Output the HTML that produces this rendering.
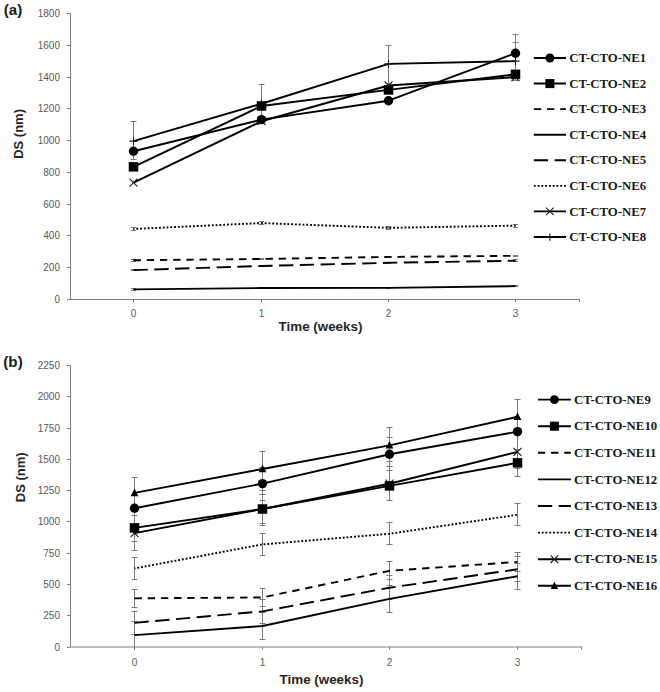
<!DOCTYPE html>
<html><head><meta charset="utf-8"><title>DS vs time</title>
<style>html,body{margin:0;padding:0;background:#fff;overflow:hidden;}svg{display:block;}</style>
</head><body>
<svg width="660" height="692" viewBox="0 0 660 692">
<rect width="660" height="692" fill="#fff"/>
<text x="3.8" y="15.0" font-family='"Liberation Sans", sans-serif' font-size="15.2" font-weight="bold" fill="#1a1a1a">(a)</text>
<line x1="70.5" y1="13" x2="70.5" y2="299.5" stroke="#7d7d7d" stroke-width="1"/>
<line x1="67" y1="299.5" x2="70.5" y2="299.5" stroke="#7d7d7d" stroke-width="1"/>
<text transform="translate(60,302.9) scale(1,1)" text-anchor="end" font-family='"Liberation Sans", sans-serif' font-size="10" fill="#595959">0</text>
<line x1="67" y1="267.5" x2="70.5" y2="267.5" stroke="#7d7d7d" stroke-width="1"/>
<text transform="translate(60,270.9) scale(1,1)" text-anchor="end" font-family='"Liberation Sans", sans-serif' font-size="10" fill="#595959">200</text>
<line x1="67" y1="235.5" x2="70.5" y2="235.5" stroke="#7d7d7d" stroke-width="1"/>
<text transform="translate(60,238.9) scale(1,1)" text-anchor="end" font-family='"Liberation Sans", sans-serif' font-size="10" fill="#595959">400</text>
<line x1="67" y1="204.5" x2="70.5" y2="204.5" stroke="#7d7d7d" stroke-width="1"/>
<text transform="translate(60,207.9) scale(1,1)" text-anchor="end" font-family='"Liberation Sans", sans-serif' font-size="10" fill="#595959">600</text>
<line x1="67" y1="172.5" x2="70.5" y2="172.5" stroke="#7d7d7d" stroke-width="1"/>
<text transform="translate(60,175.9) scale(1,1)" text-anchor="end" font-family='"Liberation Sans", sans-serif' font-size="10" fill="#595959">800</text>
<line x1="67" y1="140.5" x2="70.5" y2="140.5" stroke="#7d7d7d" stroke-width="1"/>
<text transform="translate(60,143.9) scale(1,1)" text-anchor="end" font-family='"Liberation Sans", sans-serif' font-size="10" fill="#595959">1000</text>
<line x1="67" y1="108.5" x2="70.5" y2="108.5" stroke="#7d7d7d" stroke-width="1"/>
<text transform="translate(60,111.9) scale(1,1)" text-anchor="end" font-family='"Liberation Sans", sans-serif' font-size="10" fill="#595959">1200</text>
<line x1="67" y1="77.5" x2="70.5" y2="77.5" stroke="#7d7d7d" stroke-width="1"/>
<text transform="translate(60,80.9) scale(1,1)" text-anchor="end" font-family='"Liberation Sans", sans-serif' font-size="10" fill="#595959">1400</text>
<line x1="67" y1="45.5" x2="70.5" y2="45.5" stroke="#7d7d7d" stroke-width="1"/>
<text transform="translate(60,48.9) scale(1,1)" text-anchor="end" font-family='"Liberation Sans", sans-serif' font-size="10" fill="#595959">1600</text>
<line x1="67" y1="13.5" x2="70.5" y2="13.5" stroke="#7d7d7d" stroke-width="1"/>
<text transform="translate(60,16.9) scale(1,1)" text-anchor="end" font-family='"Liberation Sans", sans-serif' font-size="10" fill="#595959">1800</text>
<line x1="70" y1="299.5" x2="580" y2="299.5" stroke="#7d7d7d" stroke-width="1"/>
<line x1="133.5" y1="299.5" x2="133.5" y2="302" stroke="#7d7d7d" stroke-width="1"/>
<line x1="261.5" y1="299.5" x2="261.5" y2="302" stroke="#7d7d7d" stroke-width="1"/>
<line x1="388.5" y1="299.5" x2="388.5" y2="302" stroke="#7d7d7d" stroke-width="1"/>
<line x1="515.5" y1="299.5" x2="515.5" y2="302" stroke="#7d7d7d" stroke-width="1"/>
<line x1="579.5" y1="299.5" x2="579.5" y2="302" stroke="#7d7d7d" stroke-width="1"/>
<text transform="translate(133.5,317) scale(1,1)" text-anchor="middle" font-family='"Liberation Sans", sans-serif' font-size="10" fill="#595959">0</text>
<text transform="translate(261.5,317) scale(1,1)" text-anchor="middle" font-family='"Liberation Sans", sans-serif' font-size="10" fill="#595959">1</text>
<text transform="translate(388.5,317) scale(1,1)" text-anchor="middle" font-family='"Liberation Sans", sans-serif' font-size="10" fill="#595959">2</text>
<text transform="translate(515.5,317) scale(1,1)" text-anchor="middle" font-family='"Liberation Sans", sans-serif' font-size="10" fill="#595959">3</text>
<text x="320.5" y="330.8" text-anchor="middle" font-family='"Liberation Sans", sans-serif' font-size="13.4" font-weight="bold" fill="#262626">Time (weeks)</text>
<text transform="translate(18.6,133.9) rotate(-90)" x="0" y="0" text-anchor="middle" font-family='"Liberation Sans", sans-serif' font-size="13" font-weight="bold" fill="#262626" dominant-baseline="central">DS (nm)</text>
<path d="M133.5 159.5L133.5 121.5M130.5 159.5L136.5 159.5M130.5 121.5L136.5 121.5" stroke="#7a7a7a" stroke-width="1" fill="none"/>
<path d="M261.5 121.5L261.5 84.5M258.5 121.5L264.5 121.5M258.5 84.5L264.5 84.5" stroke="#7a7a7a" stroke-width="1" fill="none"/>
<path d="M388.5 83.5L388.5 45.5M385.5 83.5L391.5 83.5M385.5 45.5L391.5 45.5" stroke="#7a7a7a" stroke-width="1" fill="none"/>
<path d="M515.5 80.5L515.5 42.5M512.5 80.5L518.5 80.5M512.5 42.5L518.5 42.5" stroke="#7a7a7a" stroke-width="1" fill="none"/>
<path d="M515.5 72.5L515.5 34.5M512.5 72.5L518.5 72.5M512.5 34.5L518.5 34.5" stroke="#7a7a7a" stroke-width="1" fill="none"/>
<path d="M133.5 230.5L133.5 227.5M130.9 230.5L136.1 230.5M130.9 227.5L136.1 227.5" stroke="#7a7a7a" stroke-width="1" fill="none"/>
<path d="M261.5 224.5L261.5 221.5M258.9 224.5L264.1 224.5M258.9 221.5L264.1 221.5" stroke="#7a7a7a" stroke-width="1" fill="none"/>
<path d="M388.5 229.5L388.5 226.5M385.9 229.5L391.1 229.5M385.9 226.5L391.1 226.5" stroke="#7a7a7a" stroke-width="1" fill="none"/>
<path d="M515.5 227.5L515.5 224.5M512.9 227.5L518.1 227.5M512.9 224.5L518.1 224.5" stroke="#7a7a7a" stroke-width="1" fill="none"/>
<path d="M133.5 261.5L133.5 259.5M130.9 261.5L136.1 261.5M130.9 259.5L136.1 259.5" stroke="#7a7a7a" stroke-width="1" fill="none"/>
<path d="M261.5 259.5L261.5 258.5M258.9 259.5L264.1 259.5M258.9 258.5L264.1 258.5" stroke="#7a7a7a" stroke-width="1" fill="none"/>
<path d="M388.5 257.5L388.5 256.5M385.9 257.5L391.1 257.5M385.9 256.5L391.1 256.5" stroke="#7a7a7a" stroke-width="1" fill="none"/>
<path d="M515.5 256.5L515.5 255.5M512.9 256.5L518.1 256.5M512.9 255.5L518.1 255.5" stroke="#7a7a7a" stroke-width="1" fill="none"/>
<path d="M133.5 270.5L133.5 269.5M130.9 270.5L136.1 270.5M130.9 269.5L136.1 269.5" stroke="#7a7a7a" stroke-width="1" fill="none"/>
<path d="M261.5 266.5L261.5 265.5M258.9 266.5L264.1 266.5M258.9 265.5L264.1 265.5" stroke="#7a7a7a" stroke-width="1" fill="none"/>
<path d="M388.5 263.5L388.5 262.5M385.9 263.5L391.1 263.5M385.9 262.5L391.1 262.5" stroke="#7a7a7a" stroke-width="1" fill="none"/>
<path d="M515.5 261.5L515.5 259.5M512.9 261.5L518.1 261.5M512.9 259.5L518.1 259.5" stroke="#7a7a7a" stroke-width="1" fill="none"/>
<path d="M133.5 290.5L133.5 288.5M130.9 290.5L136.1 290.5M130.9 288.5L136.1 288.5" stroke="#7a7a7a" stroke-width="1" fill="none"/>
<path d="M261.5 288.5L261.5 287.5M258.9 288.5L264.1 288.5M258.9 287.5L264.1 287.5" stroke="#7a7a7a" stroke-width="1" fill="none"/>
<path d="M388.5 288.5L388.5 287.5M385.9 288.5L391.1 288.5M385.9 287.5L391.1 287.5" stroke="#7a7a7a" stroke-width="1" fill="none"/>
<path d="M515.5 286.5L515.5 285.5M512.9 286.5L518.1 286.5M512.9 285.5L518.1 285.5" stroke="#7a7a7a" stroke-width="1" fill="none"/>
<polyline points="133.5,151.26 261.5,119.64 388.5,100.73 515.5,53.22" fill="none" stroke="#000" stroke-width="1.9" stroke-linejoin="round"/>
<polyline points="133.5,166.83 261.5,105.97 388.5,89.93 515.5,74.35" fill="none" stroke="#000" stroke-width="1.9" stroke-linejoin="round"/>
<polyline points="133.5,260.25 261.5,258.98 388.5,256.92 515.5,255.81" fill="none" stroke="#000" stroke-width="1.9" stroke-dasharray="7.4 5.8" stroke-linejoin="round"/>
<polyline points="133.5,289.33 261.5,288.06 388.5,287.9 515.5,286.15" fill="none" stroke="#000" stroke-width="1.9" stroke-linejoin="round"/>
<polyline points="133.5,270.11 261.5,265.97 388.5,262.8 515.5,260.73" fill="none" stroke="#000" stroke-width="1.9" stroke-dasharray="14.3 6.5" stroke-linejoin="round"/>
<polyline points="133.5,228.95 261.5,223.07 388.5,227.84 515.5,225.62" fill="none" stroke="#000" stroke-width="1.9" stroke-dasharray="1.9 1.88" stroke-dashoffset="0.95" stroke-linejoin="round"/>
<polyline points="133.5,182.72 261.5,121.23 388.5,85.48 515.5,77.06" fill="none" stroke="#000" stroke-width="1.9" stroke-linejoin="round"/>
<polyline points="133.5,141.09 261.5,103.75 388.5,63.87 515.5,61.17" fill="none" stroke="#000" stroke-width="1.9" stroke-linejoin="round"/>
<path d="M129.5 141.09L137.5 141.09M133.5 137.09L133.5 145.09" stroke="#1a1a1a" stroke-width="1.1" fill="none"/>
<path d="M257.5 103.75L265.5 103.75M261.5 99.75L261.5 107.75" stroke="#1a1a1a" stroke-width="1.1" fill="none"/>
<path d="M384.5 63.87L392.5 63.87M388.5 59.87L388.5 67.87" stroke="#1a1a1a" stroke-width="1.1" fill="none"/>
<path d="M511.5 61.17L519.5 61.17M515.5 57.17L515.5 65.17" stroke="#1a1a1a" stroke-width="1.1" fill="none"/>
<path d="M129.5 178.72L137.5 186.72M129.5 186.72L137.5 178.72" stroke="#1a1a1a" stroke-width="1.1" fill="none"/>
<path d="M257.5 117.23L265.5 125.23M257.5 125.23L265.5 117.23" stroke="#1a1a1a" stroke-width="1.1" fill="none"/>
<path d="M384.5 81.48L392.5 89.48M384.5 89.48L392.5 81.48" stroke="#1a1a1a" stroke-width="1.1" fill="none"/>
<path d="M511.5 73.06L519.5 81.06M511.5 81.06L519.5 73.06" stroke="#1a1a1a" stroke-width="1.1" fill="none"/>
<rect x="128.75" y="162.08" width="9.5" height="9.5" fill="#000"/>
<rect x="256.75" y="101.22" width="9.5" height="9.5" fill="#000"/>
<rect x="383.75" y="85.18" width="9.5" height="9.5" fill="#000"/>
<rect x="510.75" y="69.6" width="9.5" height="9.5" fill="#000"/>
<circle cx="133.5" cy="151.26" r="4.7" fill="#000"/>
<circle cx="261.5" cy="119.64" r="4.7" fill="#000"/>
<circle cx="388.5" cy="100.73" r="4.7" fill="#000"/>
<circle cx="515.5" cy="53.22" r="4.7" fill="#000"/>
<line x1="533.8" y1="58" x2="566" y2="58" stroke="#000" stroke-width="1.9"/>
<circle cx="549.9" cy="58" r="4.46" fill="#000"/>
<text x="569.3" y="62.2" font-family='"Liberation Serif", serif' font-size="12.8" font-weight="bold" fill="#1a1a1a">CT-CTO-NE1</text>
<line x1="533.8" y1="83.57" x2="566" y2="83.57" stroke="#000" stroke-width="1.9"/>
<rect x="545.39" y="79.06" width="9.03" height="9.03" fill="#000"/>
<text x="569.3" y="87.77" font-family='"Liberation Serif", serif' font-size="12.8" font-weight="bold" fill="#1a1a1a">CT-CTO-NE2</text>
<line x1="533.8" y1="109.14" x2="566" y2="109.14" stroke="#000" stroke-width="1.9" stroke-dasharray="7.4 5.8"/>
<text x="569.3" y="113.34" font-family='"Liberation Serif", serif' font-size="12.8" font-weight="bold" fill="#1a1a1a">CT-CTO-NE3</text>
<line x1="533.8" y1="134.71" x2="566" y2="134.71" stroke="#000" stroke-width="1.9"/>
<text x="569.3" y="138.91" font-family='"Liberation Serif", serif' font-size="12.8" font-weight="bold" fill="#1a1a1a">CT-CTO-NE4</text>
<line x1="533.8" y1="160.28" x2="566" y2="160.28" stroke="#000" stroke-width="1.9" stroke-dasharray="14.3 6.5"/>
<text x="569.3" y="164.48" font-family='"Liberation Serif", serif' font-size="12.8" font-weight="bold" fill="#1a1a1a">CT-CTO-NE5</text>
<line x1="533.8" y1="185.85" x2="566" y2="185.85" stroke="#000" stroke-width="1.9" stroke-dasharray="1.9 1.88"/>
<text x="569.3" y="190.05" font-family='"Liberation Serif", serif' font-size="12.8" font-weight="bold" fill="#1a1a1a">CT-CTO-NE6</text>
<line x1="533.8" y1="211.42" x2="566" y2="211.42" stroke="#000" stroke-width="1.9"/>
<path d="M546.1 207.62L553.7 215.22M546.1 215.22L553.7 207.62" stroke="#1a1a1a" stroke-width="1.1" fill="none"/>
<text x="569.3" y="215.62" font-family='"Liberation Serif", serif' font-size="12.8" font-weight="bold" fill="#1a1a1a">CT-CTO-NE7</text>
<line x1="533.8" y1="236.99" x2="566" y2="236.99" stroke="#000" stroke-width="1.9"/>
<path d="M546.1 236.99L553.7 236.99M549.9 233.19L549.9 240.79" stroke="#1a1a1a" stroke-width="1.1" fill="none"/>
<text x="569.3" y="241.19" font-family='"Liberation Serif", serif' font-size="12.8" font-weight="bold" fill="#1a1a1a">CT-CTO-NE8</text>
<text x="3.3" y="366.6" font-family='"Liberation Sans", sans-serif' font-size="15.2" font-weight="bold" fill="#1a1a1a">(b)</text>
<line x1="70.5" y1="365" x2="70.5" y2="647" stroke="#7d7d7d" stroke-width="1"/>
<line x1="67" y1="647.5" x2="70.5" y2="647.5" stroke="#7d7d7d" stroke-width="1"/>
<text transform="translate(60,650.9) scale(1,1)" text-anchor="end" font-family='"Liberation Sans", sans-serif' font-size="10" fill="#595959">0</text>
<line x1="67" y1="615.5" x2="70.5" y2="615.5" stroke="#7d7d7d" stroke-width="1"/>
<text transform="translate(60,618.9) scale(1,1)" text-anchor="end" font-family='"Liberation Sans", sans-serif' font-size="10" fill="#595959">250</text>
<line x1="67" y1="584.5" x2="70.5" y2="584.5" stroke="#7d7d7d" stroke-width="1"/>
<text transform="translate(60,587.9) scale(1,1)" text-anchor="end" font-family='"Liberation Sans", sans-serif' font-size="10" fill="#595959">500</text>
<line x1="67" y1="553.5" x2="70.5" y2="553.5" stroke="#7d7d7d" stroke-width="1"/>
<text transform="translate(60,556.9) scale(1,1)" text-anchor="end" font-family='"Liberation Sans", sans-serif' font-size="10" fill="#595959">750</text>
<line x1="67" y1="521.5" x2="70.5" y2="521.5" stroke="#7d7d7d" stroke-width="1"/>
<text transform="translate(60,524.9) scale(1,1)" text-anchor="end" font-family='"Liberation Sans", sans-serif' font-size="10" fill="#595959">1000</text>
<line x1="67" y1="490.5" x2="70.5" y2="490.5" stroke="#7d7d7d" stroke-width="1"/>
<text transform="translate(60,493.9) scale(1,1)" text-anchor="end" font-family='"Liberation Sans", sans-serif' font-size="10" fill="#595959">1250</text>
<line x1="67" y1="459.5" x2="70.5" y2="459.5" stroke="#7d7d7d" stroke-width="1"/>
<text transform="translate(60,462.9) scale(1,1)" text-anchor="end" font-family='"Liberation Sans", sans-serif' font-size="10" fill="#595959">1500</text>
<line x1="67" y1="428.5" x2="70.5" y2="428.5" stroke="#7d7d7d" stroke-width="1"/>
<text transform="translate(60,431.9) scale(1,1)" text-anchor="end" font-family='"Liberation Sans", sans-serif' font-size="10" fill="#595959">1750</text>
<line x1="67" y1="396.5" x2="70.5" y2="396.5" stroke="#7d7d7d" stroke-width="1"/>
<text transform="translate(60,399.9) scale(1,1)" text-anchor="end" font-family='"Liberation Sans", sans-serif' font-size="10" fill="#595959">2000</text>
<line x1="67" y1="365.5" x2="70.5" y2="365.5" stroke="#7d7d7d" stroke-width="1"/>
<text transform="translate(60,368.9) scale(1,1)" text-anchor="end" font-family='"Liberation Sans", sans-serif' font-size="10" fill="#595959">2250</text>
<line x1="70" y1="647" x2="582" y2="647" stroke="#7d7d7d" stroke-width="1"/>
<line x1="134.5" y1="647" x2="134.5" y2="649.5" stroke="#7d7d7d" stroke-width="1"/>
<line x1="262.5" y1="647" x2="262.5" y2="649.5" stroke="#7d7d7d" stroke-width="1"/>
<line x1="389.5" y1="647" x2="389.5" y2="649.5" stroke="#7d7d7d" stroke-width="1"/>
<line x1="517.5" y1="647" x2="517.5" y2="649.5" stroke="#7d7d7d" stroke-width="1"/>
<line x1="581.5" y1="647" x2="581.5" y2="649.5" stroke="#7d7d7d" stroke-width="1"/>
<text transform="translate(134.5,665.6) scale(1,1)" text-anchor="middle" font-family='"Liberation Sans", sans-serif' font-size="10" fill="#595959">0</text>
<text transform="translate(262.5,665.6) scale(1,1)" text-anchor="middle" font-family='"Liberation Sans", sans-serif' font-size="10" fill="#595959">1</text>
<text transform="translate(389.5,665.6) scale(1,1)" text-anchor="middle" font-family='"Liberation Sans", sans-serif' font-size="10" fill="#595959">2</text>
<text transform="translate(517.5,665.6) scale(1,1)" text-anchor="middle" font-family='"Liberation Sans", sans-serif' font-size="10" fill="#595959">3</text>
<text x="321.5" y="683.6" text-anchor="middle" font-family='"Liberation Sans", sans-serif' font-size="13.4" font-weight="bold" fill="#262626">Time (weeks)</text>
<text transform="translate(20.1,477.3) rotate(-90)" x="0" y="0" text-anchor="middle" font-family='"Liberation Sans", sans-serif' font-size="13" font-weight="bold" fill="#262626" dominant-baseline="central">DS (nm)</text>
<path d="M134.5 508.5L134.5 477.5M131.5 508.5L137.5 508.5M131.5 477.5L137.5 477.5" stroke="#7a7a7a" stroke-width="1" fill="none"/>
<path d="M134.5 515.5L134.5 508.5M131.5 515.5L137.5 515.5M131.5 508.5L137.5 508.5" stroke="#7a7a7a" stroke-width="1" fill="none"/>
<path d="M134.5 550.5L134.5 505.5M131.5 550.5L137.5 550.5M131.5 505.5L137.5 505.5" stroke="#7a7a7a" stroke-width="1" fill="none"/>
<path d="M134.5 541.5L134.5 524.5M131.5 541.5L137.5 541.5M131.5 524.5L137.5 524.5" stroke="#7a7a7a" stroke-width="1" fill="none"/>
<path d="M134.5 579.5L134.5 557.5M131.5 579.5L137.5 579.5M131.5 557.5L137.5 557.5" stroke="#7a7a7a" stroke-width="1" fill="none"/>
<path d="M134.5 607.5L134.5 589.5M131.5 607.5L137.5 607.5M131.5 589.5L137.5 589.5" stroke="#7a7a7a" stroke-width="1" fill="none"/>
<path d="M134.5 634.5L134.5 611.5M131.5 634.5L137.5 634.5M131.5 611.5L137.5 611.5" stroke="#7a7a7a" stroke-width="1" fill="none"/>
<path d="M134.5 650L134.5 621.5M131.5 621.5L137.5 621.5" stroke="#7a7a7a" stroke-width="1" fill="none"/>
<path d="M262.5 486.5L262.5 451.5M259.5 486.5L265.5 486.5M259.5 451.5L265.5 451.5" stroke="#7a7a7a" stroke-width="1" fill="none"/>
<path d="M262.5 500.5L262.5 467.5M259.5 500.5L265.5 500.5M259.5 467.5L265.5 467.5" stroke="#7a7a7a" stroke-width="1" fill="none"/>
<path d="M262.5 523.5L262.5 494.5M259.5 523.5L265.5 523.5M259.5 494.5L265.5 494.5" stroke="#7a7a7a" stroke-width="1" fill="none"/>
<path d="M262.5 525.5L262.5 490.5M259.5 525.5L265.5 525.5M259.5 490.5L265.5 490.5" stroke="#7a7a7a" stroke-width="1" fill="none"/>
<path d="M262.5 555.5L262.5 533.5M259.5 555.5L265.5 555.5M259.5 533.5L265.5 533.5" stroke="#7a7a7a" stroke-width="1" fill="none"/>
<path d="M262.5 606.5L262.5 588.5M259.5 606.5L265.5 606.5M259.5 588.5L265.5 588.5" stroke="#7a7a7a" stroke-width="1" fill="none"/>
<path d="M262.5 623.5L262.5 599.5M259.5 623.5L265.5 623.5M259.5 599.5L265.5 599.5" stroke="#7a7a7a" stroke-width="1" fill="none"/>
<path d="M262.5 639.5L262.5 612.5M259.5 639.5L265.5 639.5M259.5 612.5L265.5 612.5" stroke="#7a7a7a" stroke-width="1" fill="none"/>
<path d="M389.5 461.5L389.5 427.5M386.5 461.5L392.5 461.5M386.5 427.5L392.5 427.5" stroke="#7a7a7a" stroke-width="1" fill="none"/>
<path d="M389.5 470.5L389.5 437.5M386.5 470.5L392.5 470.5M386.5 437.5L392.5 437.5" stroke="#7a7a7a" stroke-width="1" fill="none"/>
<path d="M389.5 500.5L389.5 466.5M386.5 500.5L392.5 500.5M386.5 466.5L392.5 466.5" stroke="#7a7a7a" stroke-width="1" fill="none"/>
<path d="M389.5 544.5L389.5 522.5M386.5 544.5L392.5 544.5M386.5 522.5L392.5 522.5" stroke="#7a7a7a" stroke-width="1" fill="none"/>
<path d="M389.5 579.5L389.5 561.5M386.5 579.5L392.5 579.5M386.5 561.5L392.5 561.5" stroke="#7a7a7a" stroke-width="1" fill="none"/>
<path d="M389.5 599.5L389.5 575.5M386.5 599.5L392.5 599.5M386.5 575.5L392.5 575.5" stroke="#7a7a7a" stroke-width="1" fill="none"/>
<path d="M389.5 612.5L389.5 585.5M386.5 612.5L392.5 612.5M386.5 585.5L392.5 585.5" stroke="#7a7a7a" stroke-width="1" fill="none"/>
<path d="M517.5 434.5L517.5 399.5M514.5 434.5L520.5 434.5M514.5 399.5L520.5 399.5" stroke="#7a7a7a" stroke-width="1" fill="none"/>
<path d="M517.5 468.5L517.5 434.5M514.5 468.5L520.5 468.5M514.5 434.5L520.5 434.5" stroke="#7a7a7a" stroke-width="1" fill="none"/>
<path d="M517.5 476.5L517.5 449.5M514.5 476.5L520.5 476.5M514.5 449.5L520.5 449.5" stroke="#7a7a7a" stroke-width="1" fill="none"/>
<path d="M517.5 525.5L517.5 503.5M514.5 525.5L520.5 525.5M514.5 503.5L520.5 503.5" stroke="#7a7a7a" stroke-width="1" fill="none"/>
<path d="M517.5 571.5L517.5 552.5M514.5 571.5L520.5 571.5M514.5 552.5L520.5 552.5" stroke="#7a7a7a" stroke-width="1" fill="none"/>
<path d="M517.5 581.5L517.5 556.5M514.5 581.5L520.5 581.5M514.5 556.5L520.5 556.5" stroke="#7a7a7a" stroke-width="1" fill="none"/>
<path d="M517.5 589.5L517.5 563.5M514.5 589.5L520.5 589.5M514.5 563.5L520.5 563.5" stroke="#7a7a7a" stroke-width="1" fill="none"/>
<polyline points="134.5,508.25 262.5,483.6 389.5,454.2 517.5,431.68" fill="none" stroke="#000" stroke-width="1.9" stroke-linejoin="round"/>
<polyline points="134.5,527.89 262.5,509 389.5,485.86 517.5,462.84" fill="none" stroke="#000" stroke-width="1.9" stroke-linejoin="round"/>
<polyline points="134.5,598.33 262.5,597.46 389.5,570.81 517.5,561.92" fill="none" stroke="#000" stroke-width="1.9" stroke-dasharray="7.4 5.8" stroke-linejoin="round"/>
<polyline points="134.5,635.11 262.5,625.98 389.5,598.83 517.5,576.19" fill="none" stroke="#000" stroke-width="1.9" stroke-linejoin="round"/>
<polyline points="134.5,622.85 262.5,611.34 389.5,587.7 517.5,569.31" fill="none" stroke="#000" stroke-width="1.9" stroke-dasharray="14.3 6.5" stroke-linejoin="round"/>
<polyline points="134.5,568.43 262.5,544.41 389.5,533.77 517.5,514.76" fill="none" stroke="#000" stroke-width="1.9" stroke-dasharray="1.9 1.88" stroke-dashoffset="0.95" stroke-linejoin="round"/>
<polyline points="134.5,533.15 262.5,509 389.5,483.73 517.5,451.95" fill="none" stroke="#000" stroke-width="1.9" stroke-linejoin="round"/>
<polyline points="134.5,492.86 262.5,468.97 389.5,445.32 517.5,416.8" fill="none" stroke="#000" stroke-width="1.9" stroke-linejoin="round"/>
<path d="M130.5 529.15L138.5 537.15M130.5 537.15L138.5 529.15" stroke="#1a1a1a" stroke-width="1.1" fill="none"/>
<path d="M258.5 505L266.5 513M258.5 513L266.5 505" stroke="#1a1a1a" stroke-width="1.1" fill="none"/>
<path d="M385.5 479.73L393.5 487.73M385.5 487.73L393.5 479.73" stroke="#1a1a1a" stroke-width="1.1" fill="none"/>
<path d="M513.5 447.95L521.5 455.95M513.5 455.95L521.5 447.95" stroke="#1a1a1a" stroke-width="1.1" fill="none"/>
<rect x="129.75" y="523.14" width="9.5" height="9.5" fill="#000"/>
<rect x="257.75" y="504.25" width="9.5" height="9.5" fill="#000"/>
<rect x="384.75" y="481.11" width="9.5" height="9.5" fill="#000"/>
<rect x="512.75" y="458.09" width="9.5" height="9.5" fill="#000"/>
<circle cx="134.5" cy="508.25" r="4.7" fill="#000"/>
<circle cx="262.5" cy="483.6" r="4.7" fill="#000"/>
<circle cx="389.5" cy="454.2" r="4.7" fill="#000"/>
<circle cx="517.5" cy="431.68" r="4.7" fill="#000"/>
<path d="M134.5 488.56L138.4 496.16L130.6 496.16Z" fill="#000"/>
<path d="M262.5 464.67L266.4 472.27L258.6 472.27Z" fill="#000"/>
<path d="M389.5 441.02L393.4 448.62L385.6 448.62Z" fill="#000"/>
<path d="M517.5 412.5L521.4 420.1L513.6 420.1Z" fill="#000"/>
<line x1="537.9" y1="399.6" x2="570.9" y2="399.6" stroke="#000" stroke-width="1.9"/>
<circle cx="554.4" cy="399.6" r="4.46" fill="#000"/>
<text x="574" y="403.8" font-family='"Liberation Serif", serif' font-size="12.8" font-weight="bold" fill="#1a1a1a">CT-CTO-NE9</text>
<line x1="537.9" y1="426.2" x2="570.9" y2="426.2" stroke="#000" stroke-width="1.9"/>
<rect x="549.89" y="421.69" width="9.03" height="9.03" fill="#000"/>
<text x="574" y="430.4" font-family='"Liberation Serif", serif' font-size="12.8" font-weight="bold" fill="#1a1a1a">CT-CTO-NE10</text>
<line x1="537.9" y1="452.8" x2="570.9" y2="452.8" stroke="#000" stroke-width="1.9" stroke-dasharray="7.4 5.8"/>
<text x="574" y="457" font-family='"Liberation Serif", serif' font-size="12.8" font-weight="bold" fill="#1a1a1a">CT-CTO-NE11</text>
<line x1="537.9" y1="479.4" x2="570.9" y2="479.4" stroke="#000" stroke-width="1.9"/>
<text x="574" y="483.6" font-family='"Liberation Serif", serif' font-size="12.8" font-weight="bold" fill="#1a1a1a">CT-CTO-NE12</text>
<line x1="537.9" y1="506" x2="570.9" y2="506" stroke="#000" stroke-width="1.9" stroke-dasharray="14.3 6.5"/>
<text x="574" y="510.2" font-family='"Liberation Serif", serif' font-size="12.8" font-weight="bold" fill="#1a1a1a">CT-CTO-NE13</text>
<line x1="537.9" y1="532.6" x2="570.9" y2="532.6" stroke="#000" stroke-width="1.9" stroke-dasharray="1.9 1.88"/>
<text x="574" y="536.8" font-family='"Liberation Serif", serif' font-size="12.8" font-weight="bold" fill="#1a1a1a">CT-CTO-NE14</text>
<line x1="537.9" y1="559.2" x2="570.9" y2="559.2" stroke="#000" stroke-width="1.9"/>
<path d="M550.6 555.4L558.2 563M550.6 563L558.2 555.4" stroke="#1a1a1a" stroke-width="1.1" fill="none"/>
<text x="574" y="563.4" font-family='"Liberation Serif", serif' font-size="12.8" font-weight="bold" fill="#1a1a1a">CT-CTO-NE15</text>
<line x1="537.9" y1="585.8" x2="570.9" y2="585.8" stroke="#000" stroke-width="1.9"/>
<path d="M554.4 581.72L558.11 588.94L550.69 588.94Z" fill="#000"/>
<text x="574" y="590" font-family='"Liberation Serif", serif' font-size="12.8" font-weight="bold" fill="#1a1a1a">CT-CTO-NE16</text>
</svg>
</body></html>
